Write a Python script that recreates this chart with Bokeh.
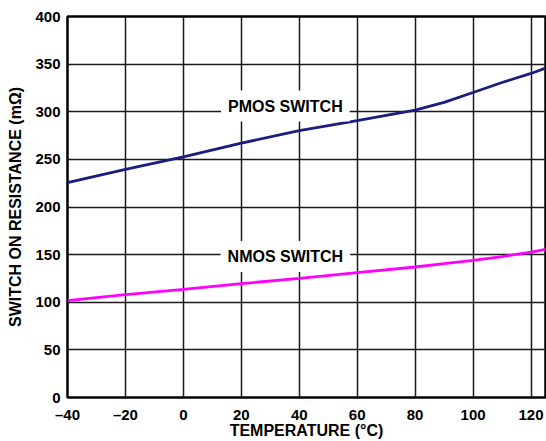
from bokeh.plotting import figure
from bokeh.models import Label, FixedTicker, Range1d
from bokeh.embed import file_html
from bokeh.resources import INLINE

# Data
temp = [-40, -20, 0, 20, 40, 60, 80, 90, 100, 110, 120, 125]
pmos = [225.5, 239.5, 252.7, 267, 280.3, 290.6, 301.8, 309.8, 320.2, 330.7, 340.2, 345.8]
nmos = [101.8, 108, 113.5, 119.5, 125, 131, 137, 140.5, 144, 148, 152.6, 155.4]

x_ticks = [-40, -20, 0, 20, 40, 60, 80, 100, 120]
x_tick_labels = ["–40", "–20", "0", "20", "40", "60", "80", "100", "120"]
y_ticks = [0, 50, 100, 150, 200, 250, 300, 350, 400]

FONT = "Liberation Sans"

p = figure(width=546, height=441, output_backend="svg", toolbar_location=None,
           x_range=Range1d(-40, 125), y_range=Range1d(0, 400),
           min_border_left=67, min_border_right=1, min_border_top=16, min_border_bottom=43)

p.outline_line_color = "black"
p.outline_line_width = 2.5

for ax in (p.xaxis[0], p.yaxis[0]):
    ax.axis_line_color = None
    ax.major_tick_line_color = None
    ax.minor_tick_line_color = None
    ax.major_tick_out = 0
    ax.major_tick_in = 0
    ax.minor_tick_out = 0
    ax.minor_tick_in = 0
    ax.major_label_text_font = FONT
    ax.major_label_text_font_style = "bold"
    ax.major_label_text_font_size = "15px"
    ax.major_label_text_color = "black"
    ax.axis_label_text_font = FONT
    ax.axis_label_text_font_style = "bold"
    ax.axis_label_text_font_size = "16px"
    ax.axis_label_text_color = "black"

p.xaxis.ticker = FixedTicker(ticks=x_ticks)
p.xaxis.major_label_overrides = {t: l for t, l in zip(x_ticks, x_tick_labels)}
p.yaxis.ticker = FixedTicker(ticks=y_ticks)
p.xaxis.axis_label = "TEMPERATURE (°C)"
p.yaxis.axis_label = "SWITCH ON RESISTANCE (mΩ)"
p.xaxis.major_label_standoff = 8
p.yaxis.major_label_standoff = 7
p.xaxis.axis_label_standoff = -4
p.yaxis.axis_label_standoff = 8

p.xgrid.grid_line_color = "#1a1a1a"
p.ygrid.grid_line_color = "#1a1a1a"
p.xgrid.grid_line_width = 1.5
p.ygrid.grid_line_width = 1.5

p.line(temp, pmos, line_color="#1c1c80", line_width=2.8)
p.line(temp, nmos, line_color="#ff00ff", line_width=2.8)

for txt, yv in (("PMOS SWITCH", 306), ("NMOS SWITCH", 148)):
    p.add_layout(Label(x=35.2, y=yv, text=txt, text_align="center", text_baseline="middle",
                       text_font=FONT, text_font_style="bold", text_font_size="16px",
                       text_color="black", background_fill_color="white", padding=7))

open("out.html", "w").write(file_html(p, INLINE))
